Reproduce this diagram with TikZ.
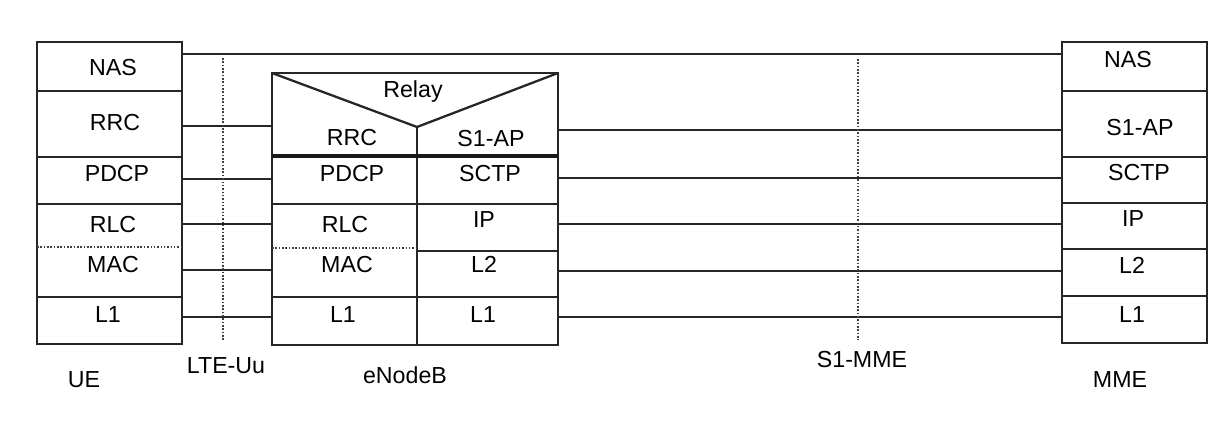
\documentclass[tikz,border=0pt]{standalone}
\usepackage{fontspec}
\setmainfont{Liberation Sans}
\usepackage{tikz}
\newcommand{\layertext}[4]{\node[anchor=base] (#1) at (#3,#4) {#2};}
\newcommand{\drawthick}{\draw[line width=1.3pt, black!85]}
\newcommand{\drawdotted}{\draw[densely dotted, line width=0.9pt, black!75]}
\newcommand{\drawlink}{\draw[line width=1.1pt, black!85]}

\begin{document}
\begin{tikzpicture}[x=0.02cm,y=-0.02cm,font=\fontsize{13.2}{15}\selectfont]
\useasboundingbox (0,0) rectangle (1221,422);
% UE stack
\drawthick (37,42) rectangle (182,344);
\foreach \y in {91,157,204,297}{
  \drawthick (37,\y)--(182,\y);
}
\drawdotted (37,247)--(182,247);
% eNodeB stack
\drawthick (272,73) rectangle (558,345);
\drawthick (272,73)--(417,127)--(558,73);
\drawthick (417,127)--(417,345);
\draw[line width=1.8pt, black!90] (272,156)--(558,156);
\drawthick (272,204)--(558,204);
\drawdotted (272,248)--(417,248);
\drawthick (417,251)--(558,251);
\drawthick (272,297)--(558,297);
% MME stack
\drawthick (1062,42) rectangle (1207,343);
\foreach \y in {91,157,203,249,296}{
  \drawthick (1062,\y)--(1207,\y);
}
% peer links
\coordinate (ue-nas) at (182,54);
\coordinate (mme-nas) at (1062,54);
\drawlink (ue-nas)--(mme-nas);
\foreach \n/\y in {rrc/126,pdcp/179,rlc/224,mac/270,lone/317}{
  \coordinate (ue-\n) at (182,\y);
  \coordinate (enbl-\n) at (272,\y);
  \drawlink (ue-\n)--(enbl-\n);
}
\foreach \n/\y in {sap/130,sctp/178,ip/224,ltwo/271,lone/317}{
  \coordinate (enbr-\n) at (558,\y);
  \coordinate (mme-\n) at (1062,\y);
  \drawlink (enbr-\n)--(mme-\n);
}
% reference points
\coordinate (uu-top) at (223,58);
\coordinate (uu-bot) at (223,340);
\coordinate (s1-top) at (858,59);
\coordinate (s1-bot) at (858,340);
\drawdotted (uu-top)--(uu-bot);
\drawdotted (s1-top)--(s1-bot);
% texts
\layertext{uenas}{NAS}{113}{75.5}
\layertext{uerrc}{RRC}{115}{130.5}
\layertext{uepdcp}{PDCP}{117}{181.5}
\layertext{uerlc}{RLC}{113}{233}
\layertext{uemac}{MAC}{113}{272.5}
\layertext{uelone}{L1}{108}{322}
\layertext{relay}{Relay}{413}{98}
\layertext{enbrrc}{RRC}{352}{146}
\layertext{enbsap}{S1-AP}{491}{147}
\layertext{enbpdcp}{PDCP}{352}{182}
\layertext{enbsctp}{SCTP}{490}{182}
\layertext{enbrlc}{RLC}{345}{233}
\layertext{enbip}{IP}{484}{228}
\layertext{enbmac}{MAC}{347}{273}
\layertext{enbltwo}{L2}{484}{273}
\layertext{enblone}{L1}{343}{322}
\layertext{enbrone}{L1}{483}{322}
\layertext{mmenas}{NAS}{1128}{68}
\layertext{mmesap}{S1-AP}{1140}{136}
\layertext{mmesctp}{SCTP}{1139}{181}
\layertext{mmeip}{IP}{1133}{227}
\layertext{mmeltwo}{L2}{1132}{274}
\layertext{mmelone}{L1}{1132}{323}
\layertext{ue}{UE}{84}{387}
\layertext{lteuu}{LTE-Uu}{226}{374}
\layertext{enb}{eNodeB}{405}{383}
\layertext{sonemme}{S1-MME}{862}{367}
\layertext{mme}{MME}{1120}{387}
\end{tikzpicture}
\end{document}
